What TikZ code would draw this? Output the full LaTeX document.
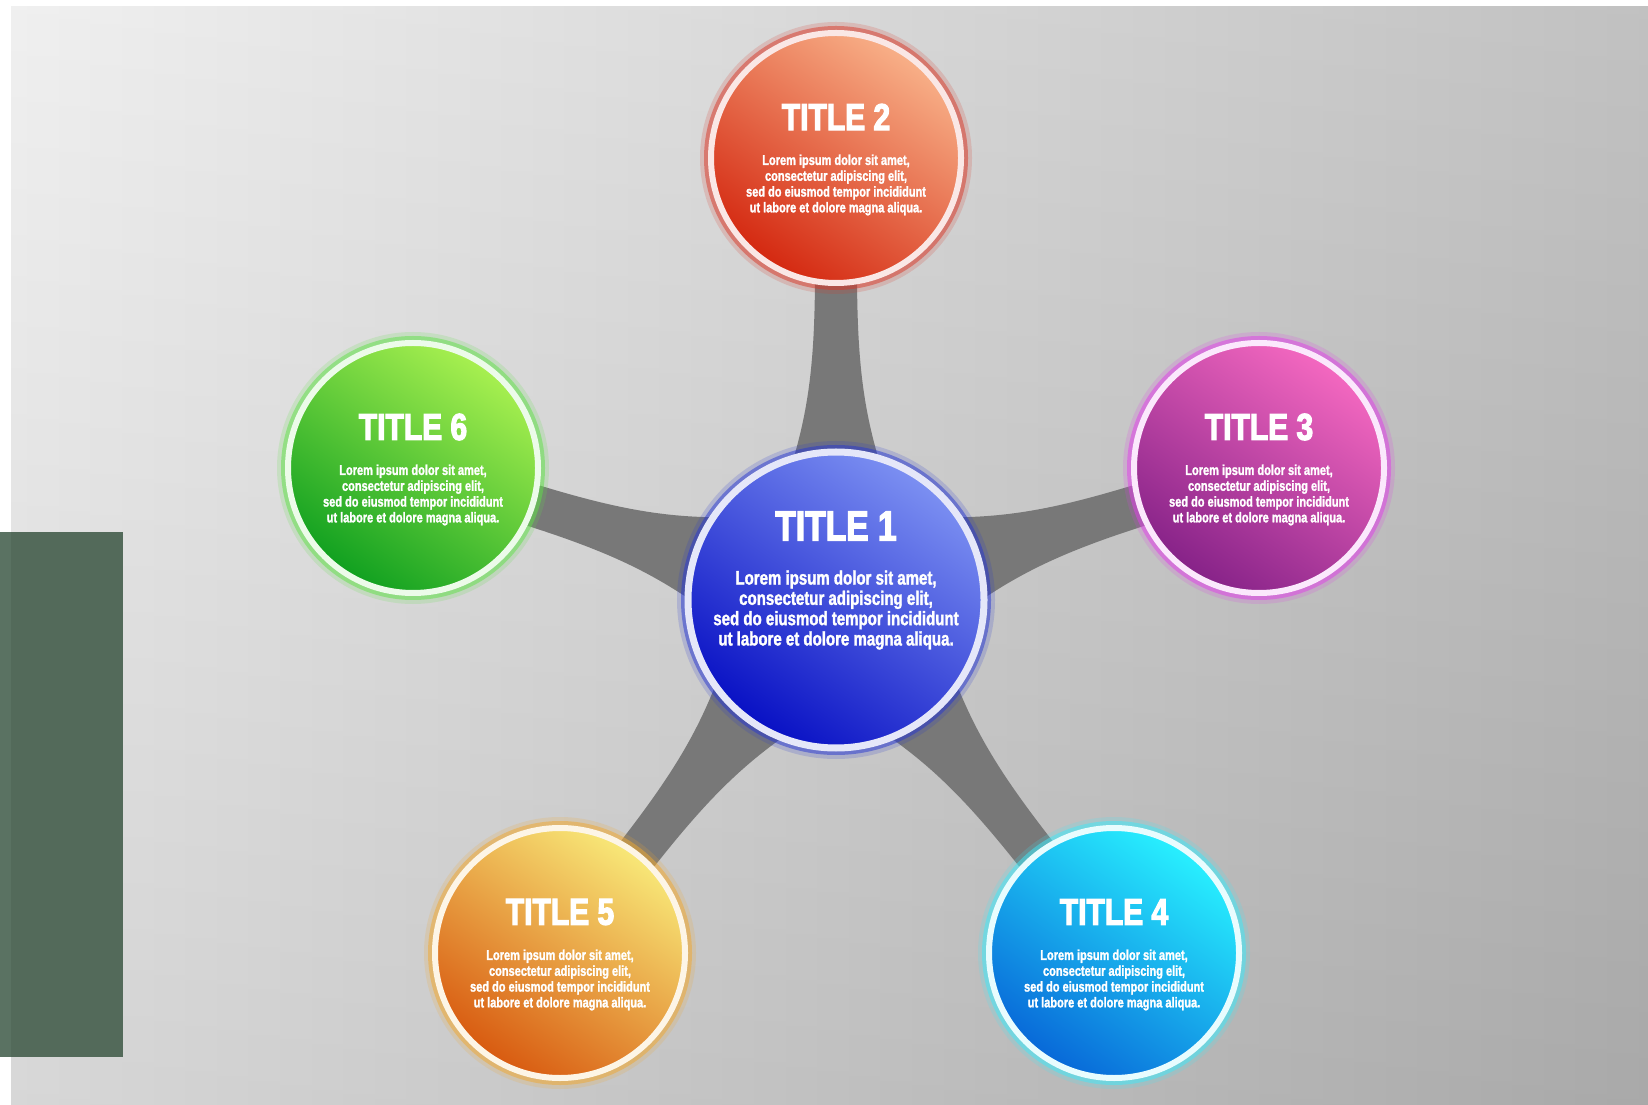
\documentclass[tikz,border=0pt]{standalone}
\usepackage{fontspec}
\usetikzlibrary{calc}
\newfontfamily\titlefont[FakeStretch=0.8,FakeBold=3]{Liberation Sans}
\newfontfamily\bodyfont[FakeStretch=0.77,FakeBold=1.6]{Liberation Sans}
\definecolor{spokegray}{HTML}{787878}
\definecolor{bgleft}{HTML}{F0F0F0}
\definecolor{bgright}{HTML}{BCBCBC}
\definecolor{bgtop}{HTML}{F0F0F0}
\definecolor{sidegreen}{HTML}{536A5A}
\definecolor{sidegreenb}{HTML}{5A7262}
\definecolor{bluetop}{HTML}{7C90F2}\definecolor{bluebot}{HTML}{0810C4}\definecolor{blueglow}{HTML}{2838D0}
\definecolor{redtop}{HTML}{F8B088}\definecolor{redbot}{HTML}{D42810}\definecolor{redglow}{HTML}{D83828}
\definecolor{magtop}{HTML}{F468C0}\definecolor{magbot}{HTML}{862288}\definecolor{magglow}{HTML}{E040E8}
\definecolor{cyantop}{HTML}{28F0FF}\definecolor{cyanbot}{HTML}{0868D8}\definecolor{cyanglow}{HTML}{40E8F8}
\definecolor{orgtop}{HTML}{F8E878}\definecolor{orgbot}{HTML}{D85A10}\definecolor{orgglow}{HTML}{F0A830}
\definecolor{grntop}{HTML}{A8F050}\definecolor{grnbot}{HTML}{10A020}\definecolor{grnglow}{HTML}{60E048}
\tikzset{
  spokefill/.style={fill=spokegray},
  bigbubble/.style={circle, inner sep=0pt, minimum size=296pt, line width=7pt},
  smallbubble/.style={circle, inner sep=0pt, minimum size=250pt, line width=6pt},
  tint/.style n args={3}{top color=#1, bottom color=#2, shading angle=-35,
     draw=white!88!#3,
     preaction={draw=#3, line width=22pt, opacity=0.18},
     preaction={draw=#3, line width=14pt, opacity=0.5}},
  bigtitle/.style={text=white, inner sep=0pt, font=\titlefont\bfseries\fontsize{42}{42}\selectfont},
  smalltitle/.style={text=white, inner sep=0pt, font=\titlefont\bfseries\fontsize{37.5}{37.5}\selectfont},
  bigbody/.style={text=white, inner sep=0pt, align=center, font=\bodyfont\bfseries\fontsize{19.5}{20.3}\selectfont},
  smallbody/.style={text=white, inner sep=0pt, align=center, font=\bodyfont\bfseries\fontsize{14.3}{15.8}\selectfont}
}
\newcommand\spoke[2]{%
  \path let \p1=($(#2)-(#1)$), \n1={atan2(\y1,\x1)} in \pgfextra{\xdef\spokeang{\n1}};
  \fill[spokefill, shift={(#1)}, rotate=\spokeang]
    (0,62) -- (130,46) .. controls (190,27) and (240,21) .. (330,21) -- (400,21)
    -- (400,-21) -- (330,-21) .. controls (240,-21) and (190,-27) .. (130,-46) -- (0,-62) -- cycle;}
\newcommand\lorem{Lorem ipsum dolor sit amet,\\consectetur adipiscing elit,\\sed do eiusmod tempor incididunt\\ut labore et dolore magna aliqua.}
\begin{document}
\begin{tikzpicture}[x=1pt,y=1pt]
\useasboundingbox (0,0) rectangle (1648,1104);
\fill[white] (-6,-6) rectangle (1654,1110);
\fill[bgright] (11,-6) rectangle (1654,1097);
\shade[left color=bgleft, right color=bgright] (11,-6) rectangle (1654,1097);
\shade[top color=bgtop, bottom color=black, opacity=0.1] (11,-6) rectangle (1654,1097);
\fill[sidegreenb] (-6,47) rectangle (11,572);
\fill[sidegreen] (11,47) rectangle (123,572);

\coordinate (p1) at (836,504);
\coordinate (p2) at (836,946);
\coordinate (p3) at (1259,636);
\coordinate (p4) at (1114,151);
\coordinate (p5) at (560,151);
\coordinate (p6) at (413,636);

\spoke{p1}{p2}
\spoke{p1}{p3}
\spoke{p1}{p4}
\spoke{p1}{p5}
\spoke{p1}{p6}

\node[bigbubble, tint={bluetop}{bluebot}{blueglow}] (n1) at (p1) {};
\node[smallbubble, tint={redtop}{redbot}{redglow}] (n2) at (p2) {};
\node[smallbubble, tint={magtop}{magbot}{magglow}] (n3) at (p3) {};
\node[smallbubble, tint={cyantop}{cyanbot}{cyanglow}] (n4) at (p4) {};
\node[smallbubble, tint={orgtop}{orgbot}{orgglow}] (n5) at (p5) {};
\node[smallbubble, tint={grntop}{grnbot}{grnglow}] (n6) at (p6) {};

\node[bigtitle] (t1) at ($(n1)+(0,74)$) {TITLE 1};
\node[bigbody] (b1) at ($(n1)+(0,-10)$) {\lorem};
\node[smalltitle] (t2) at ($(n2)+(0,41)$) {TITLE 2};
\node[smallbody] (b2) at ($(n2)+(0,-27)$) {\lorem};
\node[smalltitle] (t3) at ($(n3)+(0,41)$) {TITLE 3};
\node[smallbody] (b3) at ($(n3)+(0,-27)$) {\lorem};
\node[smalltitle] (t4) at ($(n4)+(0,41)$) {TITLE 4};
\node[smallbody] (b4) at ($(n4)+(0,-27)$) {\lorem};
\node[smalltitle] (t5) at ($(n5)+(0,41)$) {TITLE 5};
\node[smallbody] (b5) at ($(n5)+(0,-27)$) {\lorem};
\node[smalltitle] (t6) at ($(n6)+(0,41)$) {TITLE 6};
\node[smallbody] (b6) at ($(n6)+(0,-27)$) {\lorem};
\end{tikzpicture}
\end{document}
